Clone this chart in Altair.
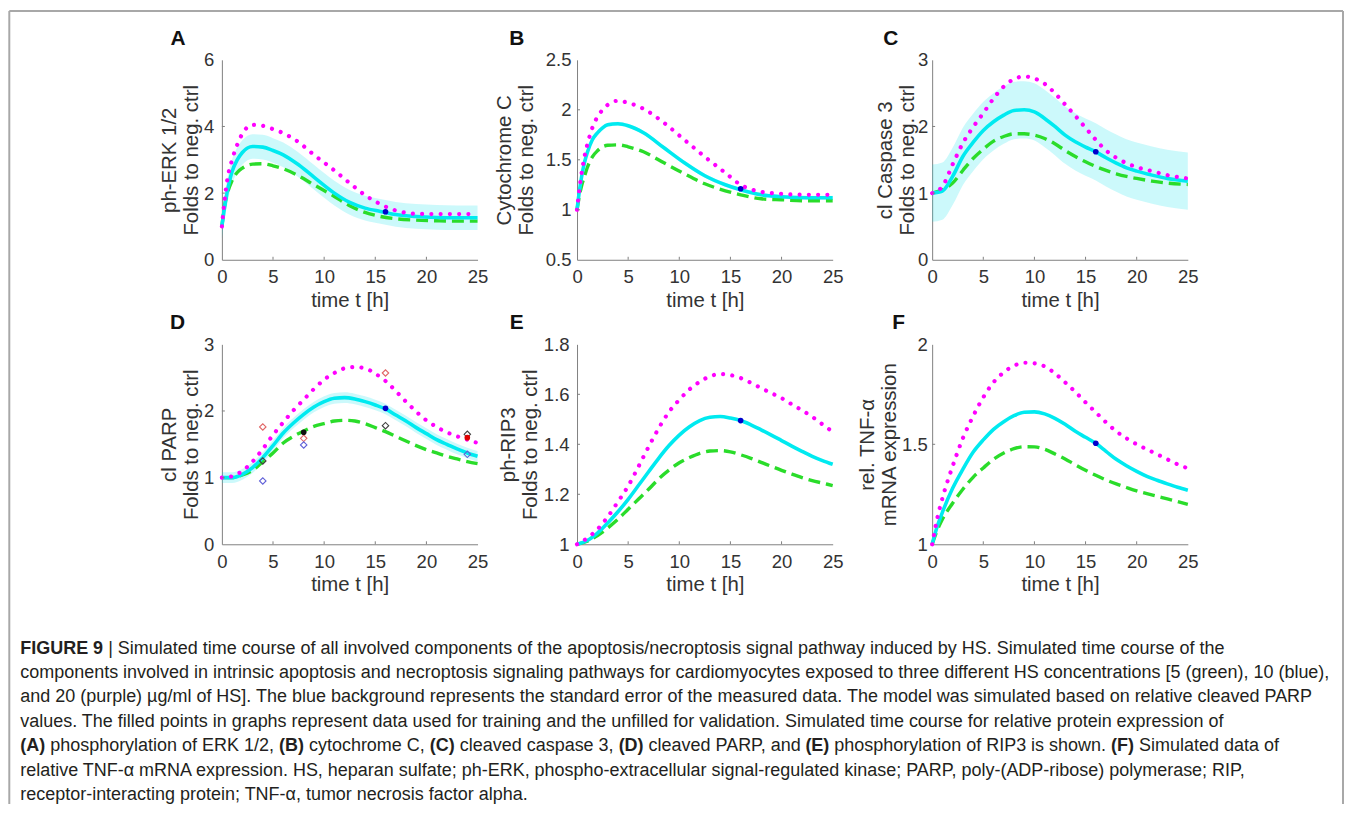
import altair as alt
import pandas as pd

# ---------------- data ----------------
A_t = [0, 0.25, 0.5, 1, 1.5, 2, 3, 4, 5, 6, 7.5, 9, 11, 12.5, 14, 15.5, 17, 19, 21, 23, 25]
A_mag = [1.0, 1.75, 2.35, 3.0, 3.45, 3.78, 4.05, 4.02, 3.92, 3.8, 3.53, 3.15, 2.68, 2.3, 1.94, 1.67, 1.48, 1.38, 1.37, 1.37, 1.37]
A_cya = [1.0, 1.55, 2.0, 2.65, 3.0, 3.22, 3.4, 3.38, 3.28, 3.15, 2.85, 2.48, 2.0, 1.72, 1.55, 1.45, 1.36, 1.3, 1.27, 1.26, 1.26]
A_grn = [1.0, 1.6, 1.95, 2.38, 2.62, 2.75, 2.87, 2.88, 2.82, 2.73, 2.52, 2.25, 1.9, 1.62, 1.42, 1.3, 1.23, 1.19, 1.17, 1.16, 1.16]
A_lo = [0.63, 1.18, 1.63, 2.28, 2.63, 2.85, 3.03, 3.01, 2.91, 2.78, 2.48, 2.11, 1.63, 1.35, 1.18, 1.08, 0.99, 0.93, 0.90, 0.89, 0.89]
A_hi = [1.37, 1.92, 2.37, 3.02, 3.37, 3.59, 3.77, 3.75, 3.65, 3.52, 3.22, 2.85, 2.37, 2.09, 1.92, 1.82, 1.73, 1.67, 1.64, 1.63, 1.63]
A_dot = 1.44

B_t = [0, 0.25, 0.5, 0.75, 1, 1.5, 2, 2.5, 3, 4, 5, 6.5, 8.5, 10.5, 12.5, 14.5, 16, 18, 20, 22.5, 25]
B_mag = [1.0, 1.22, 1.4, 1.54, 1.65, 1.82, 1.93, 2.0, 2.05, 2.09, 2.07, 2.01, 1.87, 1.7, 1.53, 1.37, 1.25, 1.18, 1.16, 1.15, 1.15]
B_cya = [1.0, 1.2, 1.36, 1.48, 1.57, 1.7, 1.77, 1.82, 1.85, 1.86, 1.84, 1.77, 1.62, 1.47, 1.34, 1.25, 1.2, 1.15, 1.13, 1.12, 1.12]
B_grn = [1.0, 1.15, 1.26, 1.34, 1.42, 1.53, 1.59, 1.63, 1.645, 1.65, 1.63, 1.58, 1.47, 1.36, 1.26, 1.19, 1.15, 1.11, 1.1, 1.09, 1.09]
B_lo = [0.98, 1.18, 1.34, 1.46, 1.55, 1.68, 1.75, 1.80, 1.83, 1.84, 1.82, 1.75, 1.60, 1.45, 1.32, 1.23, 1.18, 1.13, 1.11, 1.10, 1.10]
B_hi = [1.02, 1.22, 1.38, 1.50, 1.59, 1.72, 1.79, 1.84, 1.87, 1.88, 1.86, 1.79, 1.64, 1.49, 1.36, 1.27, 1.22, 1.17, 1.15, 1.14, 1.14]
B_dot = 1.21

C_t = [0, 1, 2, 3, 4, 5, 6, 7, 8, 9, 10, 11, 12, 13, 14, 15, 16, 17, 18, 19, 20, 21.5, 23, 25]
C_mag = [1.0, 1.1, 1.43, 1.75, 1.99, 2.2, 2.42, 2.6, 2.71, 2.75, 2.72, 2.64, 2.5, 2.33, 2.16, 1.98, 1.8, 1.64, 1.53, 1.45, 1.39, 1.33, 1.27, 1.22]
C_cya = [1.0, 1.03, 1.25, 1.55, 1.76, 1.94, 2.07, 2.17, 2.24, 2.25, 2.22, 2.12, 2.0, 1.87, 1.77, 1.69, 1.62, 1.53, 1.45, 1.38, 1.33, 1.27, 1.22, 1.18]
C_grn = [1.0, 1.05, 1.15, 1.34, 1.52, 1.66, 1.78, 1.85, 1.89, 1.89, 1.87, 1.82, 1.74, 1.64, 1.55, 1.47, 1.4, 1.34, 1.29, 1.25, 1.22, 1.18, 1.15, 1.13]
C_lo = [0.57, 0.60, 0.82, 1.12, 1.33, 1.51, 1.64, 1.74, 1.81, 1.82, 1.79, 1.69, 1.57, 1.44, 1.34, 1.26, 1.19, 1.10, 1.02, 0.95, 0.90, 0.84, 0.79, 0.75]
C_hi = [1.43, 1.46, 1.68, 1.98, 2.19, 2.37, 2.50, 2.60, 2.67, 2.68, 2.65, 2.55, 2.43, 2.30, 2.20, 2.12, 2.05, 1.96, 1.88, 1.81, 1.76, 1.70, 1.65, 1.61]
C_dot = 1.62

D_t = [0, 1, 2, 3, 4, 5, 6, 7, 8, 9, 10, 11, 12, 13, 14, 15, 16, 17, 18, 19, 20, 21, 22, 23, 24, 25]
D_mag = [1.0, 1.02, 1.1, 1.24, 1.43, 1.64, 1.83, 2.01, 2.17, 2.33, 2.47, 2.57, 2.64, 2.66, 2.64, 2.56, 2.45, 2.3, 2.14, 1.99, 1.86, 1.76, 1.68, 1.62, 1.57, 1.52]
D_cya = [1.0, 1.0, 1.05, 1.15, 1.3, 1.48, 1.67, 1.82, 1.95, 2.06, 2.14, 2.19, 2.2, 2.18, 2.14, 2.09, 2.03, 1.94, 1.85, 1.75, 1.66, 1.57, 1.5, 1.43, 1.37, 1.32]
D_grn = [1.0, 1.0, 1.04, 1.11, 1.24, 1.37, 1.52, 1.62, 1.7, 1.77, 1.81, 1.85, 1.86, 1.85, 1.81, 1.75, 1.69, 1.62, 1.55, 1.48, 1.42, 1.37, 1.32, 1.28, 1.24, 1.21]
D_lo = [0.92, 0.92, 0.97, 1.07, 1.22, 1.40, 1.59, 1.74, 1.87, 1.98, 2.06, 2.11, 2.12, 2.10, 2.06, 2.01, 1.95, 1.86, 1.77, 1.67, 1.58, 1.49, 1.42, 1.35, 1.29, 1.24]
D_hi = [1.08, 1.08, 1.13, 1.23, 1.38, 1.56, 1.75, 1.90, 2.03, 2.14, 2.22, 2.27, 2.28, 2.26, 2.22, 2.17, 2.11, 2.02, 1.93, 1.83, 1.74, 1.65, 1.58, 1.51, 1.45, 1.40]
# measured points in panel D
D_open_t = [4, 4, 4, 8, 8, 16, 16, 24, 24]
D_open_v = [1.76, 0.95, 1.25, 1.59, 1.49, 2.57, 1.78, 1.65, 1.35]
D_open_c = ["#e06464", "#6060d8", "#404040", "#e06464", "#6060d8", "#e06464", "#404040", "#404040", "#6060d8"]
D_fill_t = [8, 16, 24]
D_fill_v = [1.68, 2.04, 1.60]
D_fill_c = ["#111111", "#0000cc", "#e00000"]

E_t = [0, 1, 2, 3, 4, 5, 6, 7, 8, 9, 10, 11, 12, 13, 14, 15, 16, 17, 18, 19, 20, 21, 22, 23, 24, 25]
E_mag = [1.0, 1.025, 1.06, 1.11, 1.17, 1.233, 1.31, 1.39, 1.465, 1.53, 1.578, 1.62, 1.65, 1.672, 1.681, 1.677, 1.665, 1.646, 1.625, 1.605, 1.585, 1.56, 1.536, 1.51, 1.48, 1.45]
E_cya = [1.0, 1.015, 1.045, 1.085, 1.13, 1.18, 1.235, 1.29, 1.345, 1.395, 1.437, 1.47, 1.495, 1.508, 1.511, 1.505, 1.495, 1.478, 1.458, 1.437, 1.415, 1.393, 1.372, 1.352, 1.335, 1.32]
E_grn = [1.0, 1.012, 1.035, 1.065, 1.1, 1.14, 1.18, 1.22, 1.262, 1.297, 1.326, 1.347, 1.364, 1.373, 1.375, 1.37, 1.358, 1.344, 1.328, 1.312, 1.296, 1.281, 1.267, 1.255, 1.245, 1.235]
E_lo = [0.996, 1.011, 1.041, 1.081, 1.126, 1.176, 1.231, 1.286, 1.341, 1.391, 1.433, 1.466, 1.491, 1.504, 1.507, 1.501, 1.491, 1.474, 1.454, 1.433, 1.411, 1.389, 1.368, 1.348, 1.331, 1.316]
E_hi = [1.004, 1.019, 1.049, 1.089, 1.134, 1.184, 1.239, 1.294, 1.349, 1.399, 1.441, 1.474, 1.499, 1.512, 1.515, 1.509, 1.499, 1.482, 1.462, 1.441, 1.419, 1.397, 1.376, 1.356, 1.339, 1.324]
E_dot = 1.495

F_t = [0, 0.5, 1, 2, 3, 4, 5, 6, 7, 8, 9, 10, 11, 12, 13, 14, 15, 16, 17, 18, 19, 20, 21, 22, 23, 24, 25]
F_mag = [1.0, 1.13, 1.23, 1.39, 1.53, 1.64, 1.735, 1.81, 1.86, 1.893, 1.908, 1.905, 1.89, 1.855, 1.81, 1.762, 1.71, 1.66, 1.61, 1.565, 1.53, 1.5, 1.475, 1.45, 1.425, 1.4, 1.38]
F_cya = [1.0, 1.09, 1.16, 1.28, 1.375, 1.46, 1.522, 1.575, 1.613, 1.643, 1.66, 1.662, 1.652, 1.63, 1.6, 1.565, 1.535, 1.505, 1.465, 1.425, 1.393, 1.365, 1.34, 1.32, 1.302, 1.285, 1.27]
F_grn = [1.0, 1.07, 1.125, 1.205, 1.275, 1.335, 1.382, 1.425, 1.456, 1.478, 1.488, 1.487, 1.475, 1.452, 1.427, 1.398, 1.37, 1.345, 1.322, 1.302, 1.284, 1.267, 1.253, 1.24, 1.227, 1.214, 1.2]
F_lo = [0.996, 1.086, 1.156, 1.276, 1.371, 1.456, 1.518, 1.571, 1.609, 1.639, 1.656, 1.658, 1.648, 1.626, 1.596, 1.561, 1.531, 1.501, 1.461, 1.421, 1.389, 1.361, 1.336, 1.316, 1.298, 1.281, 1.266]
F_hi = [1.004, 1.094, 1.164, 1.284, 1.379, 1.464, 1.526, 1.579, 1.617, 1.647, 1.664, 1.666, 1.656, 1.634, 1.604, 1.569, 1.539, 1.509, 1.469, 1.429, 1.397, 1.369, 1.344, 1.324, 1.306, 1.289, 1.274]
F_dot = 1.505

X_TICKS = [0, 5, 10, 15, 20, 25]

CAPTION = [
    [("FIGURE 9", True), (" | Simulated time course of all involved components of the apoptosis/necroptosis signal pathway induced by HS. Simulated time course of the", False)],
    [("components involved in intrinsic apoptosis and necroptosis signaling pathways for cardiomyocytes exposed to three different HS concentrations [5 (green), 10 (blue),", False)],
    [("and 20 (purple) \u00b5g/ml of HS]. The blue background represents the standard error of the measured data. The model was simulated based on relative cleaved PARP", False)],
    [("values. The filled points in graphs represent data used for training and the unfilled for validation. Simulated time course for relative protein expression of", False)],
    [("(A)", True), (" phosphorylation of ERK 1/2, ", False), ("(B)", True), (" cytochrome C, ", False), ("(C)", True),
     (" cleaved caspase 3, ", False), ("(D)", True), (" cleaved PARP, and ", False), ("(E)", True),
     (" phosphorylation of RIP3 is shown. ", False), ("(F)", True), (" Simulated data of", False)],
    [("relative TNF-\u03b1 mRNA expression. HS, heparan sulfate; ph-ERK, phospho-extracellular signal-regulated kinase; PARP, poly-(ADP-ribose) polymerase; RIP,", False)],
    [("receptor-interacting protein; TNF-\u03b1, tumor necrosis factor alpha.", False)],
]

# ---------------- styling ----------------
W, H = 257, 201
FONT = "Liberation Sans"
MAG, CYA, GRN, BAND = "#ff00ff", "#00eaf0", "#2adc2a", "#00e0ea"
AXC, TXT = "#808080", "#333333"
TICK_FS, TITLE_FS = 18.6, 20.5


def axis(values, title, tpad, lpad=8, fmt=None):
    kw = dict(values=values, title=title, grid=False, ticks=False, tickSize=0,
              domainColor=AXC, domainWidth=1, labelFont=FONT, labelFontSize=TICK_FS,
              labelColor=TXT, labelPadding=lpad, titleFont=FONT, titleFontSize=TITLE_FS,
              titleFontWeight="normal", titleColor=TXT, titlePadding=tpad, titleLineHeight=22,
              labelFlush=False)
    if fmt:
        kw["format"] = fmt
    return alt.Axis(**kw)


def panel(t, mag, cya, grn, lo, hi, dom, yticks, ytitle, letter, ldx, ylpad, ytpad, dot=None, extra=None):
    df = pd.DataFrame({"t": t, "mag": mag, "cya": cya, "grn": grn, "lo": lo, "hi": hi})
    xs = alt.Scale(domain=[0, 25], nice=False, zero=False)
    ys = alt.Scale(domain=dom, nice=False, zero=False)
    xax = axis(X_TICKS, "time t [h]", 4)
    yax = axis(yticks, ytitle, ytpad, ylpad, "~g")
    X = alt.X("t:Q", scale=xs, axis=xax)

    def Y(f):
        return alt.Y(f, type="quantitative", scale=ys, axis=yax)

    base = alt.Chart(df)
    band = base.mark_area(color=BAND, opacity=0.2, interpolate="monotone").encode(x=X, y=Y("lo"), y2="hi:Q")
    green = base.mark_line(color=GRN, strokeWidth=3.4, strokeDash=[12, 6], interpolate="monotone").encode(x=X, y=Y("grn"))
    cyan = base.mark_line(color=CYA, strokeWidth=3.6, interpolate="monotone").encode(x=X, y=Y("cya"))
    magenta = base.mark_line(color=MAG, strokeWidth=4.2, strokeDash=[0.01, 9.3], strokeCap="round",
                             interpolate="monotone").encode(x=X, y=Y("mag"))
    xt = alt.Chart(pd.DataFrame({"t": X_TICKS[1:-1]})).mark_rule(color=AXC, strokeWidth=1).encode(
        x=X, y=alt.value(H), y2=alt.value(H - 3))
    yt = alt.Chart(pd.DataFrame({"v": yticks[1:-1]})).mark_rule(color=AXC, strokeWidth=1).encode(
        y=Y("v"), x=alt.value(0), x2=alt.value(3))
    lab = alt.Chart(pd.DataFrame({"s": [letter]})).mark_text(
        font=FONT, fontSize=21, fontWeight="bold", color="#111111", align="center", baseline="middle"
    ).encode(text="s:N", x=alt.value(ldx), y=alt.value(-21))
    layers = [band, green, cyan, magenta, xt, yt]
    if dot is not None:
        layers.append(alt.Chart(pd.DataFrame({"t": [16], "v": [dot]})).mark_point(
            filled=True, shape="circle", size=32, color="#0000cc", opacity=1).encode(x=X, y=Y("v")))
    if extra:
        layers += extra(X, Y)
    layers.append(lab)
    return alt.layer(*layers).properties(width=W, height=H)


def d_points(X, Y):
    op = pd.DataFrame({"t": D_open_t, "v": D_open_v, "c": D_open_c})
    fi = pd.DataFrame({"t": D_fill_t, "v": D_fill_v, "c": D_fill_c})
    return [
        alt.Chart(op).mark_point(shape="diamond", filled=False, size=42, strokeWidth=1.1, opacity=1).encode(
            x=X, y=Y("v"), color=alt.Color("c:N", scale=None)),
        alt.Chart(fi).mark_point(shape="circle", filled=True, size=32, opacity=1).encode(
            x=X, y=Y("v"), color=alt.Color("c:N", scale=None)),
    ]


pA = panel(A_t, A_mag, A_cya, A_grn, A_lo, A_hi, [0, 6], [0, 2, 4, 6], ["ph-ERK 1/2", "Folds to neg. ctrl"], "A", -44, 8, 2.5, A_dot)
pB = panel(B_t, B_mag, B_cya, B_grn, B_lo, B_hi, [0.5, 2.5], [0.5, 1, 1.5, 2, 2.5], ["Cytochrome C", "Folds to neg. ctrl"], "B", -60.5, 6, 9, B_dot)
pC = panel(C_t, C_mag, C_cya, C_grn, C_lo, C_hi, [0, 3], [0, 1, 2, 3], ["cl Caspase 3", "Folds to neg. ctrl"], "C", -41.7, 4.5, 0, C_dot)
pD = panel(D_t, D_mag, D_cya, D_grn, D_lo, D_hi, [0, 3], [0, 1, 2, 3], ["cl PARP", "Folds to neg. ctrl"], "D", -44.7, 8, 2, None, d_points)
pE = panel(E_t, E_mag, E_cya, E_grn, E_lo, E_hi, [1, 1.8], [1, 1.2, 1.4, 1.6, 1.8], ["ph-RIP3", "Folds to neg. ctrl"], "E", -60.7, 8, 2.5, E_dot)
pF = panel(F_t, F_mag, F_cya, F_grn, F_lo, F_hi, [1, 2], [1, 1.5, 2], ["rel. TNF-\u03b1", "mRNA expression"], "F", -33.7, 5, 2, F_dot)

# ---------------- caption (Arial/Helvetica advance widths, 1/1000 em) ----------------
_REG = [278, 278, 355, 556, 556, 889, 667, 191, 333, 333, 389, 584, 278, 333, 278, 278] + [556] * 10 + \
       [278, 278, 584, 584, 584, 556, 1015,
        667, 667, 722, 722, 667, 611, 778, 722, 278, 500, 667, 556, 833, 722, 778, 667, 778, 722, 667, 611, 722, 667, 944, 667, 667, 611,
        278, 278, 278, 469, 556, 333,
        556, 556, 500, 556, 556, 278, 556, 556, 222, 222, 500, 222, 833, 556, 556, 556, 556, 333, 500, 278, 556, 500, 722, 500, 500, 500,
        334, 260, 334, 584]
REG_W = {chr(32 + i): w for i, w in enumerate(_REG)}
BOLD_W = {"F": 611, "I": 278, "G": 778, "U": 722, "R": 722, "E": 667, " ": 278, "9": 556, "(": 333, ")": 333,
          "A": 722, "B": 722, "C": 722, "D": 722}
KERN = {"P,": -152, "PA": -74, "P.": -152}


def units(s, bold=False):
    tab = BOLD_W if bold else REG_W
    u = sum(tab.get(ch, 556) for ch in s)
    if not bold:
        u += sum(KERN.get(s[i:i + 2], 0) for i in range(len(s) - 1))
    return u


CAP_X0 = -202.7            # caption left edge relative to the caption cell
CAP_Y0, CAP_DY = 25, 24.5  # first baseline, line step
CAP_FS = round(1317 * 1000 / units(CAPTION[1][0][0]), 2)

rows_r, rows_b = [], []
for i, line in enumerate(CAPTION):
    x = CAP_X0
    y = CAP_Y0 + i * CAP_DY
    for seg, bold in line:
        lead = len(seg) - len(seg.lstrip(" "))
        xs = x + units(seg[:lead], bold) * CAP_FS / 1000
        (rows_b if bold else rows_r).append({"x": xs, "y": y, "s": seg.strip(" ")})
        x += units(seg, bold) * CAP_FS / 1000

cap_r = alt.Chart(pd.DataFrame(rows_r)).mark_text(
    align="left", baseline="alphabetic", font=FONT, fontSize=CAP_FS, color="#231f20"
).encode(x=alt.X("x:Q", scale=None), y=alt.Y("y:Q", scale=None), text="s:N")
cap_b = alt.Chart(pd.DataFrame(rows_b)).mark_text(
    align="left", baseline="alphabetic", font=FONT, fontSize=CAP_FS, fontWeight="bold", color="#231f20"
).encode(x=alt.X("x:Q", scale=None), y=alt.Y("y:Q", scale=None), text="s:N")

# figure frame (decoration), relative to the caption cell
FL, FR, FT, FB = -213.7, 1127, -621, 176
frame = alt.Chart(pd.DataFrame({"x": [FL, FL, FR], "x2": [FR, FL, FR], "y": [FT, FT, FT], "y2": [FT, FB, FB]})).mark_rule(
    color="#a8a8a8", strokeWidth=2
).encode(x=alt.X("x:Q", scale=None), x2="x2:Q", y=alt.Y("y:Q", scale=None), y2="y2:Q")

caption = alt.layer(frame, cap_r, cap_b).properties(width=W, height=1)

chart = alt.concat(
    pA, pB, pC, pD, pE, pF, caption,
    columns=3, spacing={"row": 85, "column": 100}, bounds="flush"
).properties(padding=0).configure_view(stroke=None)

chart.save("out.html", embed_options={"renderer": "svg", "actions": False})
